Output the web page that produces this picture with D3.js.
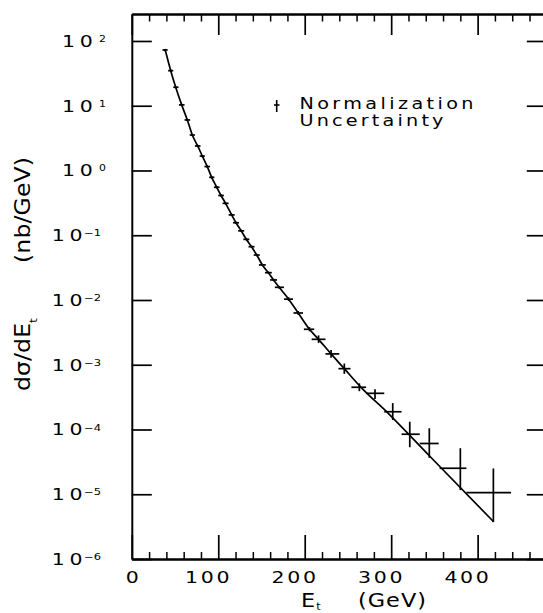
<!DOCTYPE html>
<html><head><meta charset="utf-8">
<script src="https://cdn.jsdelivr.net/npm/d3@7"></script>
<style>body{margin:0;background:#fff}svg{display:block}</style>
</head><body>
<svg id="c" width="543" height="613"></svg>
<script>
// ---- data ----
const eT   = [38.4,45.0,50.8,57.7,64.2,70.0,76.2,81.6,87.3,92.4,98.2,103.2,108.5,115.5,120.5,126.5,132.5,138.5,144.5,151.0,158.0,164.0,170.5,181.4,192.5,205.5,216.0,230.5,245.8,263.2,281.3,301.8,321.5,344.1,380.0,418.2];
const xsec = [72.6,34.8,19.3,10.3,6.03,3.53,2.39,1.67,1.15,0.785,0.551,0.411,0.311,0.206,0.156,0.117,0.0865,0.0665,0.0495,0.0348,0.0264,0.0204,0.0157,0.0103,0.0063,0.00353,0.00247,0.00147,0.00087,0.000449,0.000362,0.000188,0.0000845,0.0000608,0.0000252,0.0000106];
const binLo = [35.5,42,48,54.5,61,67,73,78.5,84,89.5,95,100,105,112,117,123,129,135,141,147,154,160,165.5,176,187,199,208,224,239,254,271,292,312,333,356,387];
const binHi = [41.5,48,54,61,67.5,73,79.5,84.5,90.5,95.5,101.5,106.5,112,119,124,130,136,142,148,155,162,168,176,186.5,198,211,224,240,253,271,292,312,333,355,387,438.6];
const errDn = [0.04,0.04,0.04,0.04,0.04,0.04,0.04,0.04,0.04,0.04,0.04,0.04,0.04,0.04,0.04,0.04,0.04,0.04,0.04,0.04,0.04,0.04,0.05,0.06,0.06,0.07,0.12,0.13,0.17,0.13,0.18,0.255,0.37,0.40,0.54,0.65];
const errUp = [0.04,0.04,0.04,0.04,0.04,0.04,0.04,0.04,0.04,0.04,0.04,0.04,0.04,0.04,0.04,0.04,0.04,0.04,0.04,0.04,0.04,0.04,0.05,0.07,0.07,0.08,0.15,0.15,0.20,0.15,0.16,0.36,0.56,0.72,1.04,1.36];
const theoryE = [38.4,45,50.8,57.7,64.2,70,76.2,81.6,87.3,92.4,98.2,103.2,108.5,115.5,120.5,126.5,132.5,138.5,144.5,151,158,164,170.5,181.4,192.5,205.5,216,230.5,245.8,264.3,296.9,344.4,418.4];
const theoryV = [75,34.8,19.3,10.3,6.03,3.53,2.39,1.67,1.15,0.785,0.551,0.411,0.311,0.206,0.156,0.117,0.0865,0.0665,0.0495,0.0348,0.0264,0.0204,0.0157,0.0103,0.0063,0.00353,0.00247,0.00147,0.00087,0.00046,0.000176,0.000039,0.00000377];
const xMajor = [0,100,200,300,400];
const xTickLabels = ["0","100","200","300","400"];
const xMinor = [20,40,60,80,120,140,160,180,220,240,260,280,320,340,360,380,420,440,460];
const yTicks = [1e2,1e1,1e0,1e-1,1e-2,1e-3,1e-4,1e-5,1e-6];
const yExp = ["2","1","0","\u22121","\u22122","\u22123","\u22124","\u22125","\u22126"];
const legendLines = ["Normalization","Uncertainty"];

// ---- drawing ----
const FONT = "'DejaVu Sans', sans-serif";
const SX = 1.28; // horizontal glyph stretch (reference lettering is wide)
const svg = d3.select("#c");
const x = d3.scaleLinear().domain([0,480]).range([131.8,546.8]);
const y = d3.scaleLog().domain([1e-6,261]).range([559,14]);
const X0 = x(0), X1 = x(480), Y0 = y(1e-6), Y1 = y(261);

function styleAxis(g, w){
  g.select(".domain").attr("stroke","#000").attr("stroke-width",2);
  g.selectAll(".tick line").attr("stroke","#000").attr("stroke-width",w);
}

// bottom
const gB = svg.append("g").attr("transform",`translate(0,${Y0})`)
  .call(d3.axisBottom(x).tickValues(xMajor).tickSizeInner(-24).tickSizeOuter(0)
        .tickFormat((d,i)=>xTickLabels[i]));
styleAxis(gB,1.7);
gB.selectAll(".tick text").attr("y",0).attr("dy",null)
  .attr("transform",(d,i)=>`translate(${xTickLabels[i].length>1?-11.5:0},23.7) scale(${SX},1)`)
  .attr("font-family",FONT).attr("font-size",16).attr("fill","#000")
  .attr("textLength",(d,i)=>(xTickLabels[i].length*15.5-2)/SX).attr("lengthAdjust","spacing");
const gBm = svg.append("g").attr("transform",`translate(0,${Y0})`)
  .call(d3.axisBottom(x).tickValues(xMinor).tickSizeInner(-7).tickSizeOuter(0).tickFormat(""));
styleAxis(gBm,1.5);

// top
const gT = svg.append("g").attr("transform",`translate(0,${Y1})`)
  .call(d3.axisTop(x).tickValues(xMajor).tickSizeInner(-21).tickSizeOuter(0).tickFormat(""));
styleAxis(gT,1.7);
const gTm = svg.append("g").attr("transform",`translate(0,${Y1})`)
  .call(d3.axisTop(x).tickValues(xMinor).tickSizeInner(-7.5).tickSizeOuter(0).tickFormat(""));
styleAxis(gTm,1.5);

// left / right
const gL = svg.append("g").attr("transform",`translate(${X0},0)`)
  .call(d3.axisLeft(y).tickValues(yTicks).tickSizeInner(-20).tickSizeOuter(0).tickFormat(""));
styleAxis(gL,1.7);
const gR = svg.append("g").attr("transform",`translate(${X1},0)`)
  .call(d3.axisRight(y).tickValues(yTicks).tickSizeInner(-20).tickSizeOuter(0).tickFormat(""));
styleAxis(gR,1.7);

// y tick labels 10^n
yTicks.forEach((v,i)=>{
  const neg = yExp[i].startsWith("\u2212");
  const t = svg.append("text")
    .attr("transform",`translate(${neg?101:106},${y(v)+6}) scale(${SX},1)`)
    .attr("text-anchor","end").attr("font-family",FONT).attr("font-size",16).attr("fill","#000");
  t.append("tspan").text("1");
  t.append("tspan").attr("dx",3.6).text("0");
  t.append("tspan").attr("font-size",neg?9:8.5).attr("dx",neg?1.2:5).attr("dy",-5).text(yExp[i]);
});

// theory curve
const line = d3.line().x(d=>x(d[0])).y(d=>y(d[1])).curve(d3.curveMonotoneX);
svg.append("path").datum(theoryE.map((e,i)=>[e,theoryV[i]]))
  .attr("d",line).attr("fill","none").attr("stroke","#000").attr("stroke-width",1.7);

// data points
const pts = eT.map((e,i)=>({e,v:xsec[i],lo:binLo[i],hi:binHi[i],dn:errDn[i],up:errUp[i]}));
const gp = svg.append("g").attr("stroke","#000").attr("stroke-width",1.7);
gp.selectAll("line.h").data(pts).join("line").attr("class","h")
  .attr("x1",d=>x(d.lo)).attr("x2",d=>x(d.hi)).attr("y1",d=>y(d.v)).attr("y2",d=>y(d.v));
gp.selectAll("line.v").data(pts).join("line").attr("class","v")
  .attr("x1",d=>x(d.e)).attr("x2",d=>x(d.e)).attr("y1",d=>y(d.v*(1-d.dn))).attr("y2",d=>y(d.v*(1+d.up)));

// legend
const lg = svg.append("g");
lg.append("line").attr("x1",276.7).attr("x2",276.7).attr("y1",100).attr("y2",112).attr("stroke","#000").attr("stroke-width",1.6);
lg.append("line").attr("x1",274).attr("x2",279.5).attr("y1",105).attr("y2",105).attr("stroke","#000").attr("stroke-width",1.6);
[[109,174],[125.5,144]].forEach(([yy,len],i)=>{
  lg.append("text").attr("transform",`translate(299.5,${yy}) scale(${SX},1)`)
    .attr("font-family",FONT).attr("font-size",15).attr("fill","#000")
    .attr("textLength",len/SX).attr("lengthAdjust","spacing").text(legendLines[i]);
});

// x title
const XS = 1.12;
const xt = svg.append("text").attr("transform",`translate(301,606.5) scale(${XS},1)`)
  .attr("font-family",FONT).attr("font-size",20).attr("fill","#000");
xt.append("tspan").text("E");
xt.append("tspan").attr("font-size",10).attr("dx",1).attr("dy",3.5).text("t");
svg.append("text").attr("transform",`translate(358,606.5) scale(${XS},1)`)
  .attr("font-family",FONT).attr("font-size",20).attr("fill","#000")
  .attr("textLength",68/XS).attr("lengthAdjust","spacing").text("(GeV)");

// y title
const yt = svg.append("text").attr("transform",`translate(30,391) rotate(-90) scale(${XS},1)`)
  .attr("font-family",FONT).attr("font-size",21).attr("fill","#000");
yt.append("tspan").attr("textLength",68/XS).attr("lengthAdjust","spacing").text("d\u03c3/dE");
yt.append("tspan").attr("font-size",11).attr("dy",7).text("t");
svg.append("text").attr("transform",`translate(30,263) rotate(-90) scale(${XS},1)`)
  .attr("font-family",FONT).attr("font-size",21).attr("fill","#000")
  .attr("textLength",106/XS).attr("lengthAdjust","spacing").text("(nb/GeV)");
</script>
</body></html>
